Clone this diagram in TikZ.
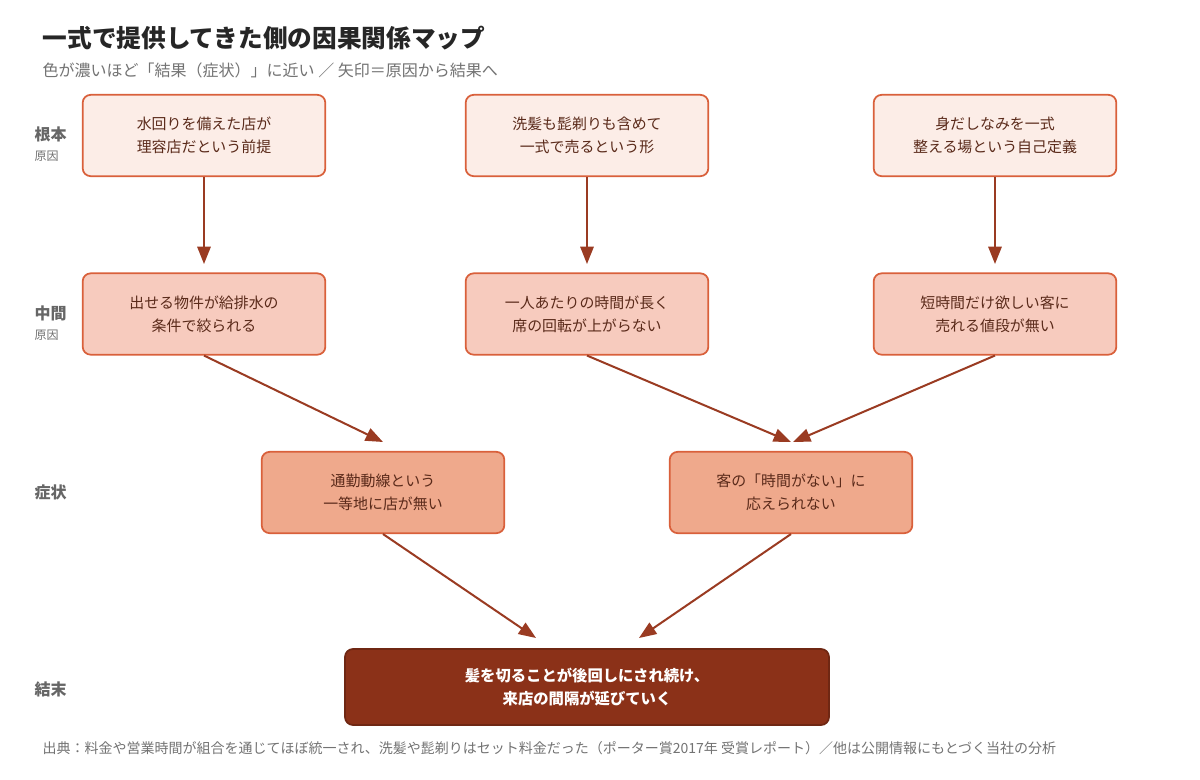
\documentclass[tikz,border=0pt]{standalone}
\usepackage{fontspec}
\setmainfont{Noto Sans CJK JP}
\usetikzlibrary{arrows.meta}
\definecolor{bd}{HTML}{D9603B}
\definecolor{fa}{HTML}{FCEDE7}
\definecolor{fb}{HTML}{F7CBBE}
\definecolor{fc}{HTML}{EFA98C}
\definecolor{fd}{HTML}{8B3118}
\definecolor{ar}{HTML}{9A3B22}
\definecolor{tx}{HTML}{5A2A1A}
\begin{document}
\begin{tikzpicture}[x=0.75pt,y=-0.75pt,
 box/.style={draw=bd,line width=1.3pt,rounded corners=6pt,minimum width=182pt,minimum height=61pt,align=center,font=\fontsize{11.2}{17}\selectfont,text=tx},
 arr/.style={draw=ar,line width=1.5pt,-{Triangle[length=13pt,width=10pt]}},
 lvl/.style={anchor=west,font=\fontsize{12}{14}\selectfont\bfseries,text=black!60},
 sub/.style={anchor=west,font=\fontsize{9}{11}\selectfont,text=black!55}]
\useasboundingbox[fill=white] (0,0) rectangle (1200,779);
\node[anchor=west,font=\fontsize{18.5}{22}\selectfont\bfseries,text=black!85] (title) at (38,38) {一式で提供してきた側の因果関係マップ};
\node[anchor=west,font=\fontsize{12}{14}\selectfont,text=black!55] (subt) at (38,70) {色が濃いほど「結果（症状）」に近い ／ 矢印＝原因から結果へ};
\node[lvl] (l1) at (30,134) {根本}; \node[sub] (l1s) at (30,156) {原因};
\node[lvl] (l2) at (30,313) {中間}; \node[sub] (l2s) at (30,335) {原因};
\node[lvl] (l3) at (30,492) {症状};
\node[lvl] (l4) at (30,689) {結末};
\node[box,fill=fa] (a1) at (204,135.5) {水回りを備えた店が\\理容店だという前提};
\node[box,fill=fa] (a2) at (587,135.5) {洗髪も髭剃りも含めて\\一式で売るという形};
\node[box,fill=fa] (a3) at (995,135.5) {身だしなみを一式\\整える場という自己定義};
\node[box,fill=fb] (b1) at (204,314) {出せる物件が給排水の\\条件で絞られる};
\node[box,fill=fb] (b2) at (587,314) {一人あたりの時間が長く\\席の回転が上がらない};
\node[box,fill=fb] (b3) at (995,314) {短時間だけ欲しい客に\\売れる値段が無い};
\node[box,fill=fc] (c1) at (383,492.5) {通勤動線という\\一等地に店が無い};
\node[box,fill=fc] (c2) at (791,492.5) {客の「時間がない」に\\応えられない};
\node[box,fill=fd,draw=fd!80!black,minimum width=363pt,minimum height=57pt,text=white,font=\fontsize{11.5}{17.5}\selectfont\bfseries] (d) at (587,687) {髪を切ることが後回しにされ続け、\\来店の間隔が延びていく};
\coordinate (e1) at (204,264); \coordinate (e2) at (587,264); \coordinate (e3) at (995,264);
\coordinate (f1) at (383,442); \coordinate (f2) at (791,442); \coordinate (f3) at (793,442);
\coordinate (g1) at (536,638); \coordinate (g2) at (639,638);
\draw[arr] (a1.south) -- (e1);
\draw[arr] (a2.south) -- (e2);
\draw[arr] (a3.south) -- (e3);
\draw[arr] (b1.south) -- (f1);
\draw[arr] (b2.south) -- (f2);
\draw[arr] (b3.south) -- (f3);
\draw[arr] (c1.south) -- (g1);
\draw[arr] (c2.south) -- (g2);
\node[anchor=west,font=\fontsize{10.5}{12}\selectfont,text=black!55] (src) at (38,748) {出典：料金や営業時間が組合を通じてほぼ統一され、洗髪や髭剃りはセット料金だった（ポーター賞2017年 受賞レポート）／他は公開情報にもとづく当社の分析};
\end{tikzpicture}
\end{document}
